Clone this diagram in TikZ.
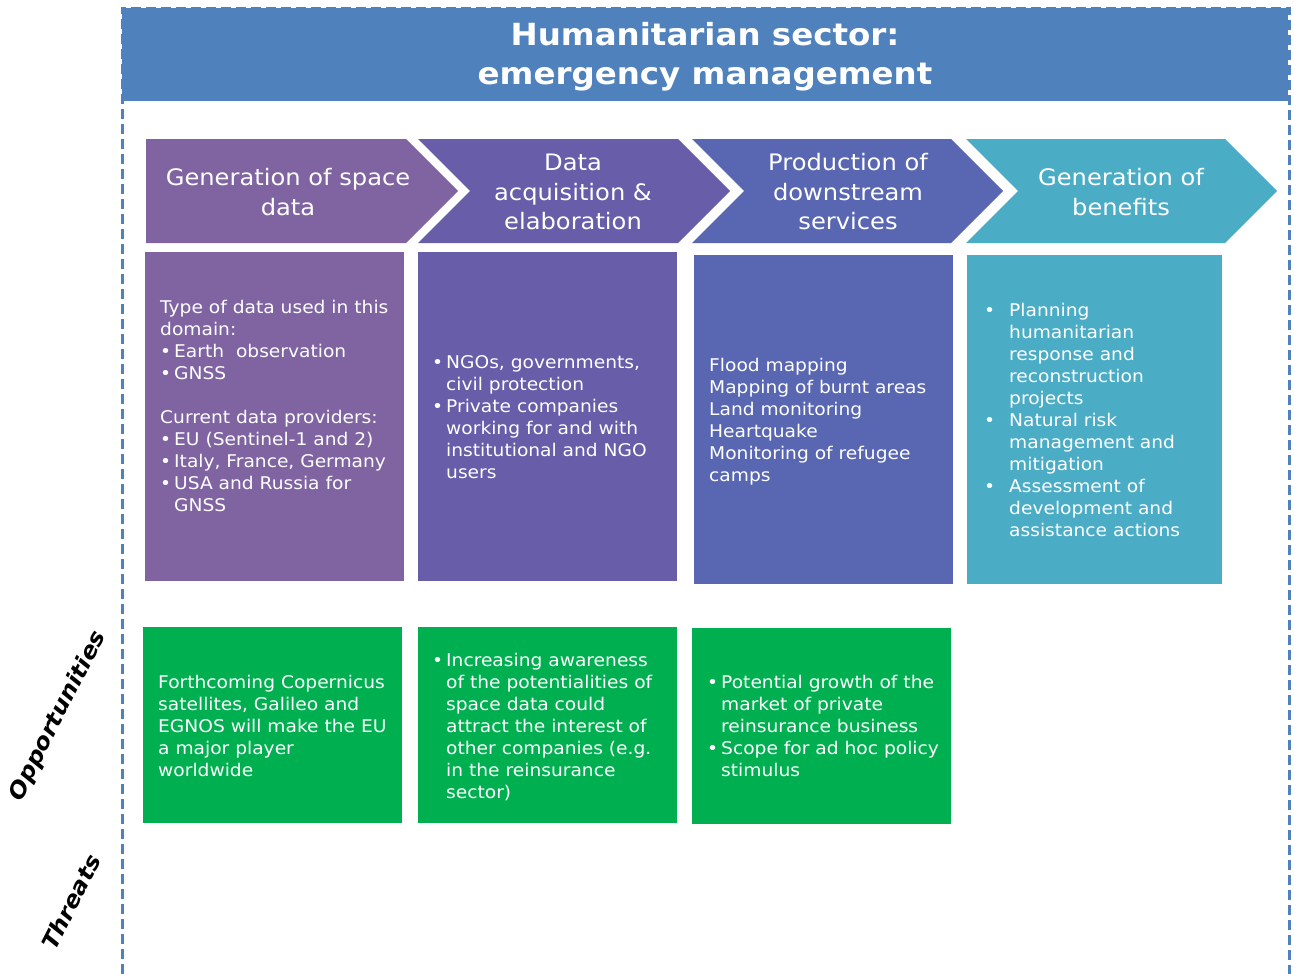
\documentclass[tikz,border=0pt]{standalone}
\usepackage{fontspec}
\setmainfont{DejaVu Sans}[FakeStretch=1.065]
\usetikzlibrary{positioning}

\definecolor{hdrblue}{HTML}{4F81BD}
\definecolor{stepA}{HTML}{8064A2}
\definecolor{stepB}{HTML}{675DA9}
\definecolor{stepC}{HTML}{5967B2}
\definecolor{stepD}{HTML}{4BACC6}
\definecolor{oppgreen}{HTML}{00B050}

\newcommand{\bul}{\makebox[14bp][l]{•}}
\newcommand{\ind}{\hspace*{14bp}}
\newcommand{\wbul}{\makebox[25bp][l]{•}}
\newcommand{\wind}{\hspace*{25bp}}

\begin{document}
\begin{tikzpicture}[x=1bp,y=-1bp,
    panel/.style={anchor=north west, inner sep=0pt, minimum width=259bp, minimum height=329bp},
    oppbox/.style={anchor=north west, inner sep=0pt, minimum width=259bp, minimum height=196bp, fill=oppgreen},
    boxtxt/.style={anchor=north west, inner sep=0pt, align=left, text=white, font=\fontsize{17.5bp}{22bp}\selectfont},
    steptxt/.style={inner sep=0pt, align=center, text=white, font=\fontsize{22.7bp}{29.5bp}\selectfont},
    sidetxt/.style={rotate=63, inner sep=0pt, font=\bfseries\itshape\fontsize{22.5bp}{22.5bp}\selectfont}]

    \useasboundingbox (0,0) rectangle (1294,974);

    % header and frame
    \fill[hdrblue] (122,8) rectangle (1288,101);
    \node[inner sep=0pt, align=center, text=white, font=\bfseries\fontsize{30.5bp}{39bp}\selectfont] (title) at (705,57) {Humanitarian sector:\\emergency management};
    \draw[hdrblue, line width=3bp, dash pattern=on 10bp off 5bp] (122,974) -- (122,8) -- (1289,8) -- (1289,974);

    % value chain
    \fill[stepA] (146,139) -- (406,139) -- (458,191) -- (406,243) -- (146,243) -- cycle;
    \fill[stepB] (418,139) -- (678,139) -- (730,191) -- (678,243) -- (418,243) -- (470,191) -- cycle;
    \fill[stepC] (692,139) -- (951,139) -- (1003,191) -- (951,243) -- (692,243) -- (744,191) -- cycle;
    \fill[stepD] (966,139) -- (1225,139) -- (1277,191) -- (1225,243) -- (966,243) -- (1018,191) -- cycle;

    \node[steptxt] (gen) at (288,192) {Generation of space\\data};
    \node[steptxt] (acq) at (573,192) {Data\\acquisition \&\\elaboration};
    \node[steptxt] (prod) at (848,192) {Production of\\downstream\\services};
    \node[steptxt] (ben) at (1121,192) {Generation of\\benefits};

    % panels
    \node[panel, fill=stepA] (genbox) at (145,252) {};
    \node[panel, fill=stepB] (acqbox) at (418,252) {};
    \node[panel, fill=stepC] (prodbox) at (694,255) {};
    \node[panel, fill=stepD, minimum width=255bp] (benbox) at (967,255) {};

    \node[boxtxt] (gentxt) at (160,300) {Type of data used in this\\domain:\\\bul Earth\ \ observation\\\bul GNSS\\[22bp]Current data providers:\\\bul EU (Sentinel-1 and 2)\\\bul Italy, France, Germany\\\bul USA and Russia for\\\ind GNSS};
    \node[boxtxt] (acqtxt) at (432,355) {\bul NGOs, governments,\\\ind civil protection\\\bul Private companies\\\ind working for and with\\\ind institutional and NGO\\\ind users};
    \node[boxtxt] (prodtxt) at (709,358) {Flood mapping\\Mapping of burnt areas\\Land monitoring\\Heartquake\\Monitoring of refugee\\camps};
    \node[boxtxt] (bentxt) at (984,303) {\wbul Planning\\\wind humanitarian\\\wind response and\\\wind reconstruction\\\wind projects\\\wbul Natural risk\\\wind management and\\\wind mitigation\\\wbul Assessment of\\\wind development and\\\wind assistance actions};

    % opportunities
    \node[oppbox] (oppgen) at (143,627) {};
    \node[oppbox] (oppacq) at (418,627) {};
    \node[oppbox] (oppprod) at (692,628) {};

    \node[boxtxt] (oppgentxt) at (158,675) {Forthcoming Copernicus\\satellites, Galileo and\\EGNOS will make the EU\\a major player\\worldwide};
    \node[boxtxt] (oppacqtxt) at (432,653) {\bul Increasing awareness\\\ind of the potentialities of\\\ind space data could\\\ind attract the interest of\\\ind other companies (e.g.\\\ind in the reinsurance\\\ind sector)};
    \node[boxtxt] (oppprodtxt) at (707,675) {\bul Potential growth of the\\\ind market of private\\\ind reinsurance business\\\bul Scope for ad hoc policy\\\ind stimulus};

    % side labels
    \node[sidetxt] (opp) at (58,716) {Opportunities};
    \node[sidetxt] (thr) at (71,902) {Threats};

\end{tikzpicture}
\end{document}
